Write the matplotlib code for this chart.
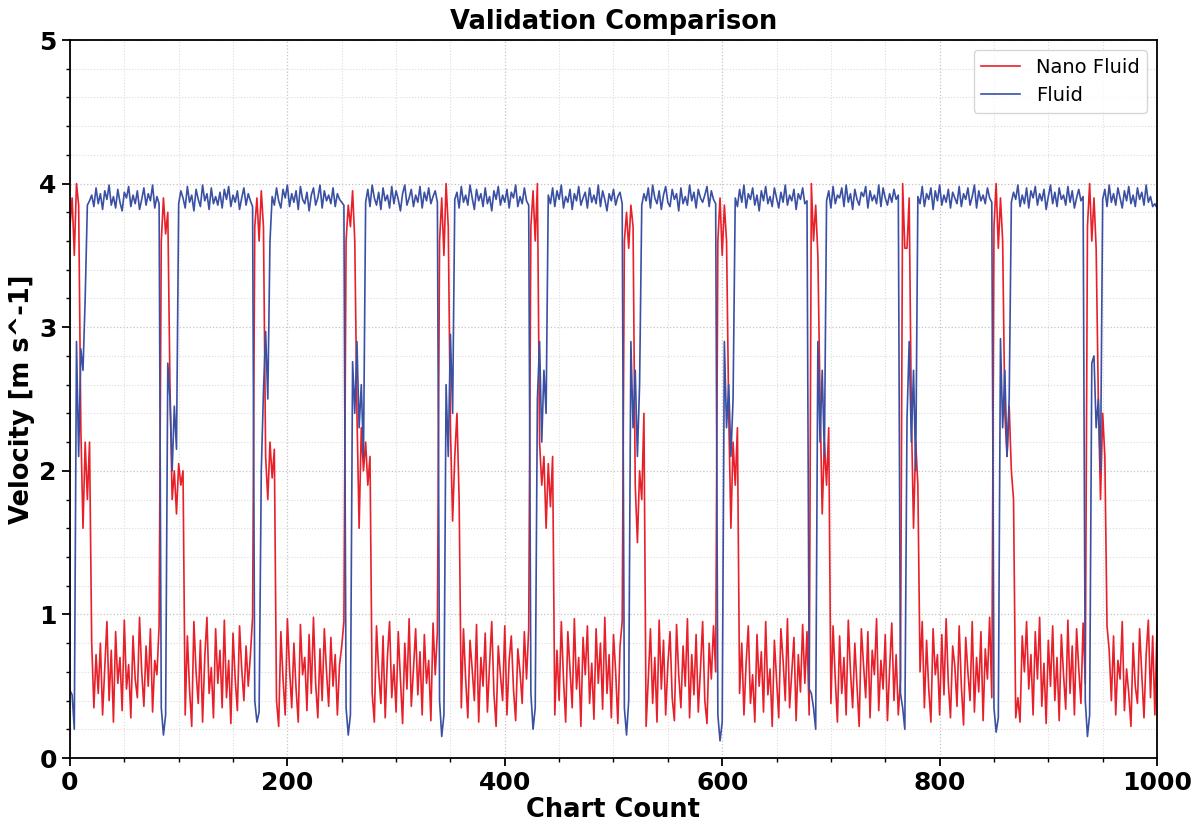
import numpy as np
import matplotlib
matplotlib.use("Agg")
import matplotlib.pyplot as plt
from matplotlib.ticker import MultipleLocator

# Fluid velocity, sampled every 2 chart counts (x = 0, 2, ..., 1000)
fluid = [
    0.47, 0.44, 0.20, 2.90, 2.10, 2.85, 2.70, 3.20, 3.85,  # 0-16
    3.88, 3.92, 3.84, 3.97, 3.86, 3.93, 3.82, 3.95, 3.89, 3.99,
    3.85, 3.91, 3.83, 3.96, 3.87, 3.81, 3.94, 3.90, 3.98, 3.84,
    3.92, 3.86, 3.95, 3.82, 3.89, 3.97, 3.85, 3.93, 3.88, 3.99,
    3.83, 3.91, 3.86,  # 18-82
    0.35, 0.16, 0.30, 2.75, 2.50, 2.00, 2.45, 2.15,  # 84-98
    3.86, 3.95, 3.90, 3.83, 3.98, 3.87, 3.92, 3.81, 3.96, 3.89,
    3.84, 3.99, 3.88, 3.93, 3.82, 3.97, 3.86, 3.91, 3.85, 3.94,
    3.83, 3.96, 3.89, 3.98, 3.84, 3.92, 3.87, 3.95, 3.82, 3.90,
    3.97, 3.85, 3.93, 3.88, 3.84,  # 100-168
    0.40, 0.25, 0.32, 2.00, 2.55, 2.97, 2.50, 3.60,  # 170-184
    3.91, 3.85, 3.97, 3.88, 3.83, 3.96, 3.90, 3.99, 3.84, 3.93,
    3.87, 3.95, 3.82, 3.98, 3.89, 3.86, 3.94, 3.81, 3.92, 3.97,
    3.85, 3.90, 3.99, 3.83, 3.95, 3.88, 3.92, 3.86, 3.97, 3.84,
    3.93, 3.89, 3.87, 3.85,  # 186-252
    0.35, 0.16, 0.30, 2.76, 2.40, 2.90, 2.30, 2.60, 2.10,  # 254-270
    3.87, 3.96, 3.84, 3.99, 3.90, 3.85, 3.94, 3.82, 3.97, 3.88,
    3.92, 3.83, 3.98, 3.86, 3.95, 3.89, 3.81, 3.93, 3.99, 3.85,
    3.90, 3.96, 3.84, 3.92, 3.87, 3.98, 3.83, 3.94, 3.88, 3.97,
    3.86, 3.91, 3.95, 3.87,  # 272-338
    0.40, 0.15, 0.30, 2.60, 2.10, 2.95, 2.40,  # 340-352
    3.89, 3.94, 3.83, 3.98, 3.87, 3.92, 3.85, 3.99, 3.90, 3.82,
    3.96, 3.88, 3.93, 3.84, 3.97, 3.86, 3.91, 3.81, 3.95, 3.89,
    3.98, 3.85, 3.92, 3.87, 3.96, 3.83, 3.94, 3.90, 3.99, 3.84,
    3.91, 3.86, 3.97, 3.88, 3.85,  # 354-422
    0.45, 0.20, 0.35, 2.50, 2.90, 2.20, 2.70, 2.40,  # 424-438
    3.92, 3.86, 3.97, 3.84, 3.95, 3.89, 3.99, 3.83, 3.91, 3.87,
    3.96, 3.82, 3.93, 3.88, 3.98, 3.85, 3.90, 3.94, 3.83, 3.97,
    3.87, 3.92, 3.86, 3.99, 3.84, 3.95, 3.89, 3.81, 3.93, 3.88,
    3.96, 3.85, 3.91, 3.94, 3.86,  # 440-508
    0.35, 0.16, 0.40, 2.90, 2.30, 2.70, 2.10, 2.60,  # 510-524
    3.85, 3.93, 3.88, 3.97, 3.83, 3.99, 3.90, 3.86, 3.95, 3.82,
    3.92, 3.98, 3.87, 3.84, 3.96, 3.89, 3.93, 3.81, 3.97, 3.86,
    3.91, 3.85, 3.99, 3.88, 3.94, 3.83, 3.96, 3.90, 3.87, 3.92,
    3.98, 3.84, 3.95, 3.89, 3.86,  # 526-594
    0.30, 0.12, 0.25, 2.90, 2.30, 2.60, 2.10, 2.50,  # 596-610
    3.90, 3.84, 3.96, 3.87, 3.99, 3.83, 3.93, 3.89, 3.97, 3.85,
    3.92, 3.81, 3.95, 3.88, 3.98, 3.86, 3.91, 3.84, 3.97, 3.90,
    3.83, 3.94, 3.87, 3.99, 3.85, 3.92, 3.88, 3.96, 3.82, 3.93,
    3.89, 3.97, 3.86, 3.88,  # 612-678
    0.48, 0.45, 0.35, 0.20, 2.90, 2.20, 2.70, 2.10,  # 680-694
    3.88, 3.95, 3.83, 3.98, 3.86, 3.92, 3.90, 3.97, 3.84, 3.99,
    3.87, 3.93, 3.82, 3.96, 3.89, 3.85, 3.94, 3.91, 3.98, 3.83,
    3.95, 3.88, 3.92, 3.86, 3.99, 3.84, 3.97, 3.90, 3.85, 3.93,
    3.87, 3.96, 3.89, 3.92,  # 696-762
    0.45, 0.35, 0.20, 2.36, 2.90, 2.20, 2.70, 2.00,  # 764-778
    3.91, 3.86, 3.98, 3.84, 3.93, 3.89, 3.97, 3.82, 3.95, 3.88,
    3.99, 3.85, 3.92, 3.87, 3.96, 3.83, 3.94, 3.90, 3.86, 3.98,
    3.84, 3.93, 3.89, 3.97, 3.85, 3.91, 3.99, 3.83, 3.95, 3.88,
    3.92, 3.86, 3.97, 3.90, 3.87,  # 780-848
    0.35, 0.18, 0.28, 2.92, 2.30, 2.70, 2.10, 2.50,  # 850-864
    3.87, 3.94, 3.89, 3.99, 3.84, 3.92, 3.86, 3.97, 3.83, 3.95,
    3.90, 3.98, 3.85, 3.93, 3.88, 3.96, 3.82, 3.91, 3.99, 3.86,
    3.94, 3.84, 3.97, 3.89, 3.92, 3.85, 3.98, 3.87, 3.95, 3.83,
    3.90, 3.96, 3.88, 3.91,  # 866-932
    0.40, 0.15, 0.30, 2.75, 2.80, 2.30, 2.50, 2.00,  # 934-948
    3.89, 3.96, 3.84, 3.99, 3.87, 3.93, 3.85, 3.97, 3.90, 3.83,
    3.95, 3.88, 3.98, 3.86, 3.92, 3.84, 3.97, 3.89, 3.94, 3.85,
    3.99, 3.87, 3.91, 3.84, 3.86, 3.83,  # 950-1000
]

# Nano fluid velocity, sampled every 2 chart counts (x = 0, 2, ..., 1000)
nano_fluid = [
    3.70, 3.90, 3.50, 4.00, 3.85, 2.30, 1.60, 2.20, 1.80, 2.20, 0.80,  # 0-20
    0.35, 0.72, 0.45, 0.80, 0.30, 0.62, 0.95, 0.40, 0.75, 0.25,
    0.88, 0.52, 0.70, 0.33, 0.96, 0.48, 0.65, 0.28, 0.85, 0.55,
    0.42, 0.98, 0.60, 0.36, 0.78, 0.50, 0.90, 0.32, 0.68, 0.58,
    0.92,  # 22-82
    3.60, 3.90, 3.65, 3.80, 2.60, 1.80, 2.00, 1.70, 2.05, 1.90, 2.00,  # 84-104
    0.30, 0.85, 0.48, 0.22, 0.95, 0.60, 0.38, 0.82, 0.25, 0.70,
    0.98, 0.45, 0.63, 0.28, 0.90, 0.52, 0.75, 0.35, 0.96, 0.42,
    0.68, 0.24, 0.87, 0.55, 0.33, 0.92, 0.62, 0.40, 0.78, 0.50,
    0.72, 0.98,  # 106-168
    3.70, 3.90, 3.60, 3.95, 3.70, 2.10, 1.80, 2.20, 1.95, 2.15,  # 170-188
    0.40, 0.22, 0.88, 0.55, 0.30, 0.97, 0.62, 0.35, 0.80, 0.48,
    0.25, 0.93, 0.58, 0.70, 0.33, 0.86, 0.45, 0.98, 0.52, 0.28,
    0.76, 0.40, 0.90, 0.60, 0.36, 0.84, 0.50, 0.72, 0.30, 0.65,
    0.78, 0.95,  # 190-252
    3.60, 3.85, 3.70, 3.95, 3.60, 2.40, 1.60, 2.30, 2.00, 2.20, 1.90, 2.10,  # 254-276
    0.45, 0.25, 0.92, 0.60, 0.38, 0.85, 0.28, 0.70, 0.95, 0.42,
    0.65, 0.32, 0.88, 0.55, 0.24, 0.80, 0.48, 0.97, 0.36, 0.62,
    0.90, 0.44, 0.74, 0.30, 0.86, 0.52, 0.68, 0.26, 0.94, 0.58,
    0.88,  # 278-338
    3.60, 3.90, 3.50, 4.00, 3.70, 2.30, 1.65, 2.10, 2.40, 1.80,  # 340-358
    0.35, 0.90, 0.55, 0.28, 0.82, 0.62, 0.40, 0.93, 0.25, 0.70,
    0.50, 0.87, 0.32, 0.65, 0.95, 0.45, 0.22, 0.78, 0.58, 0.40,
    0.92, 0.30, 0.68, 0.85, 0.48, 0.26, 0.76, 0.60, 0.38, 0.88,
    0.55, 0.90,  # 360-422
    3.70, 3.95, 3.60, 4.00, 2.20, 1.90, 2.10, 1.60, 2.05, 1.75, 2.10,  # 424-444
    0.30, 0.75, 0.40, 0.95, 0.55, 0.25, 0.88, 0.62, 0.35, 0.97,
    0.48, 0.70, 0.22, 0.84, 0.58, 0.92, 0.38, 0.66, 0.27, 0.90,
    0.52, 0.80, 0.34, 0.98, 0.45, 0.72, 0.28, 0.86, 0.60, 0.24,
    0.78, 0.95,  # 446-508
    3.60, 3.80, 3.55, 3.85, 3.70, 1.90, 1.50, 2.00, 1.80, 2.40,  # 510-528
    0.22, 0.55, 0.90, 0.38, 0.70, 0.25, 0.96, 0.48, 0.82, 0.30,
    0.65, 0.88, 0.42, 0.26, 0.93, 0.58, 0.35, 0.78, 0.50, 0.97,
    0.28, 0.72, 0.44, 0.86, 0.32, 0.62, 0.95, 0.40, 0.24, 0.80,
    0.55, 0.92, 0.60,  # 530-594
    3.60, 3.90, 3.50, 3.85, 3.60, 2.40, 1.60, 2.20, 1.90, 2.30,  # 596-614
    0.45, 0.80, 0.30, 0.66, 0.92, 0.38, 0.58, 0.25, 0.86, 0.50,
    0.74, 0.32, 0.95, 0.44, 0.62, 0.22, 0.82, 0.55, 0.28, 0.90,
    0.68, 0.40, 0.97, 0.35, 0.60, 0.84, 0.26, 0.72, 0.46, 0.93,
    0.52, 0.88, 0.30,  # 616-680
    4.00, 3.60, 3.85, 3.50, 2.50, 1.70, 2.20, 1.90, 2.30,  # 682-698
    0.38, 0.92, 0.55, 0.25, 0.85, 0.45, 0.70, 0.30, 0.96, 0.60,
    0.35, 0.80, 0.50, 0.22, 0.90, 0.65, 0.42, 0.88, 0.28, 0.75,
    0.58, 0.97, 0.33, 0.68, 0.48, 0.86, 0.26, 0.62, 0.94, 0.40,
    0.72, 0.30, 0.55,  # 700-764
    4.00, 3.55, 3.55, 3.90, 2.40, 1.60, 2.20, 1.90,  # 766-780
    0.60, 0.95, 0.35, 0.82, 0.48, 0.25, 0.90, 0.58, 0.72, 0.30,
    0.86, 0.44, 0.97, 0.52, 0.28, 0.78, 0.64, 0.36, 0.92, 0.50,
    0.23, 0.84, 0.60, 0.40, 0.95, 0.32, 0.70, 0.46, 0.88, 0.26,
    0.76, 0.55, 0.98, 0.42,  # 782-848
    3.70, 4.00, 3.55, 3.90, 3.60, 2.40, 2.10, 2.45, 2.00, 1.80,  # 850-868
    0.28, 0.42, 0.25, 0.85, 0.60, 0.95, 0.48, 0.72, 0.30, 0.88,
    0.55, 0.98, 0.36, 0.66, 0.24, 0.82, 0.50, 0.92, 0.40, 0.70,
    0.26, 0.86, 0.58, 0.34, 0.96, 0.45, 0.78, 0.30, 0.90, 0.62,
    0.38, 0.94, 0.52,  # 870-934
    3.70, 4.00, 3.60, 3.90, 3.55, 2.50, 1.80, 2.40, 2.10,  # 936-952
    0.92, 0.75, 0.40, 0.85, 0.30, 0.68, 0.55, 0.95, 0.33, 0.62,
    0.45, 0.22, 0.80, 0.50, 0.38, 0.90, 0.58, 0.28, 0.72, 0.96,
    0.42, 0.85, 0.30, 0.92,  # 954-1000
]

series_labels = ["Nano Fluid", "Fluid"]
title_text = "Validation Comparison"
x_label = "Chart Count"
y_label = "Velocity [m s^-1]"

count_nano = np.arange(len(nano_fluid)) * 2
count_fluid = np.arange(len(fluid)) * 2

fig = plt.figure(figsize=(11.98, 8.25), dpi=100)
ax = fig.add_axes([0.0584, 0.0812, 0.9074, 0.8703])

ax.plot(count_nano, nano_fluid, color="#e8202a", lw=1.2, label=series_labels[0])
ax.plot(count_fluid, fluid, color="#3a50a3", lw=1.2, label=series_labels[1])

ax.set_xlim(0, 1000)
ax.set_ylim(0, 5)
ax.xaxis.set_major_locator(MultipleLocator(200))
ax.xaxis.set_minor_locator(MultipleLocator(50))
ax.yaxis.set_major_locator(MultipleLocator(1))
ax.yaxis.set_minor_locator(MultipleLocator(0.2))
ax.grid(which="major", linestyle=":", color="#c4c4c4", lw=0.9)
ax.grid(which="minor", linestyle=":", color="#dcdcdc", lw=0.8)
ax.set_axisbelow(True)

ax.tick_params(axis="both", which="major", labelsize=18, length=6, width=1.3)
ax.tick_params(axis="both", which="minor", length=3, width=1.0)
for lbl in ax.get_xticklabels() + ax.get_yticklabels():
    lbl.set_fontweight("bold")
for sp in ax.spines.values():
    sp.set_linewidth(1.3)

ax.set_title(title_text, fontsize=18.5, fontweight="bold", pad=8)
ax.set_xlabel(x_label, fontsize=18.5, fontweight="bold", labelpad=1)
ax.set_ylabel(y_label, fontsize=18.5, fontweight="bold", labelpad=3)

ax.legend(loc="upper right", fontsize=14, frameon=True)

fig.savefig("out.png", dpi=100)
